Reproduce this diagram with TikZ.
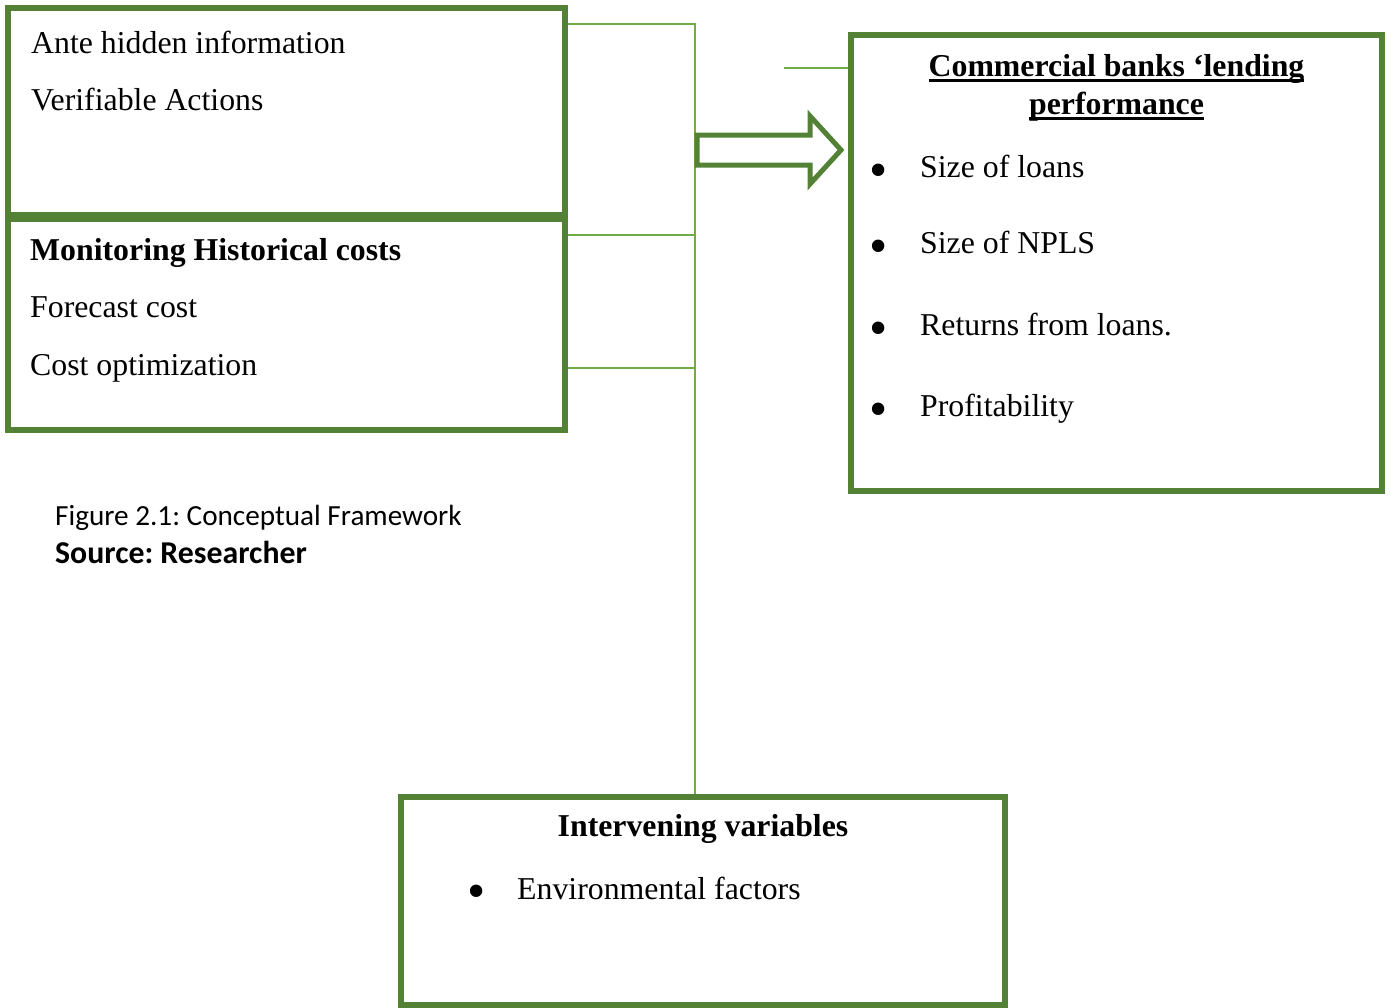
\documentclass[tikz,border=0pt]{standalone}
\usepackage{fontspec}
\setmainfont{Liberation Serif}
\newfontfamily\capfont{Carlito}
\newcommand{\framefont}{\fontsize{31.8}{38}\selectfont}
\newcommand{\ulbox}[1]{\setbox0\hbox{#1}\rlap{\rule[-5.5pt]{\wd0}{3pt}}\box0}
\definecolor{boxgreen}{HTML}{538135}
\definecolor{linkgreen}{HTML}{70AD47}
\frenchspacing
\begin{document}
\begin{tikzpicture}[x=1pt,y=-1pt,line join=miter,
  box/.style={draw=boxgreen,line width=5.5pt,inner sep=0pt},
  link/.style={draw=linkgreen,line width=1.4pt},
  txt/.style={anchor=base west,inner sep=0pt,font=\framefont},
  ttl/.style={anchor=base,inner sep=0pt,font=\framefont\bfseries},
  dot/.style={anchor=center,inner sep=0pt,font=\fontsize{52}{52}\selectfont}]
  \useasboundingbox (0,0) rectangle (1391,1007);
  \node[box,minimum width=557pt,minimum height=207pt] (ante) at (286.5,111.5) {};
  \node[box,minimum width=557pt,minimum height=211pt] (monitor) at (286.5,324.5) {};
  \node[box,minimum width=531pt,minimum height=456pt] (perf) at (1116.5,263) {};
  \node[box,minimum width=604pt,minimum height=208pt] (interv) at (703,901) {};
  \coordinate (s1) at (695,24);
  \coordinate (s2) at (695,235);
  \coordinate (s3) at (695,368);
  \coordinate (t0) at (784,68);
  \draw[link] (ante.east |- s1) -- (s1) -- (interv.north -| s1);
  \draw[link] (monitor.east |- s2) -- (s2);
  \draw[link] (monitor.east |- s3) -- (s3);
  \draw[link] (t0) -- (perf.west |- t0);
  \draw[draw=boxgreen,line width=5pt] (697,135) -- (810,135) -- (810,116) -- (841,150)
    -- (810,184) -- (810,165) -- (697,165) -- cycle;
  \node[txt] (a1) at (31,53) {Ante hidden information};
  \node[txt] (a2) at (31,110) {Verifiable Actions};
  \node[txt,font=\framefont\bfseries] (m1) at (30,260) {Monitoring Historical costs};
  \node[txt] (m2) at (30,317) {Forecast cost};
  \node[txt] (m3) at (30,375) {Cost optimization};
  \node[ttl] (p0) at (1116.5,76) {\ulbox{Commercial banks ‘lending}};
  \node[ttl] (p00) at (1116.5,114) {\ulbox{performance}};
  \foreach \y/\t [count=\i] in {177/Size of loans,253/Size of NPLS,335/Returns from loans.,416/Profitability}{
    \node[dot] (b\i) at (879,\y-1.5) {\textbullet};
    \node[txt] (p\i) at (920,\y) {\t};
  }
  \node[ttl] (i0) at (703,836) {Intervening variables};
  \node[dot] (ib) at (477,897) {\textbullet};
  \node[txt] (i1) at (517,899) {Environmental factors};
  \node[anchor=base west,inner sep=0pt,font=\capfont\fontsize{29.2}{34}\selectfont] (cap) at (55,525)
    {Figure 2.1: Conceptual Framework};
  \node[anchor=base west,inner sep=0pt,font=\capfont\bfseries\fontsize{31.8}{38}\selectfont] (src) at (55,563)
    {Source: Researcher};
\end{tikzpicture}
\end{document}
